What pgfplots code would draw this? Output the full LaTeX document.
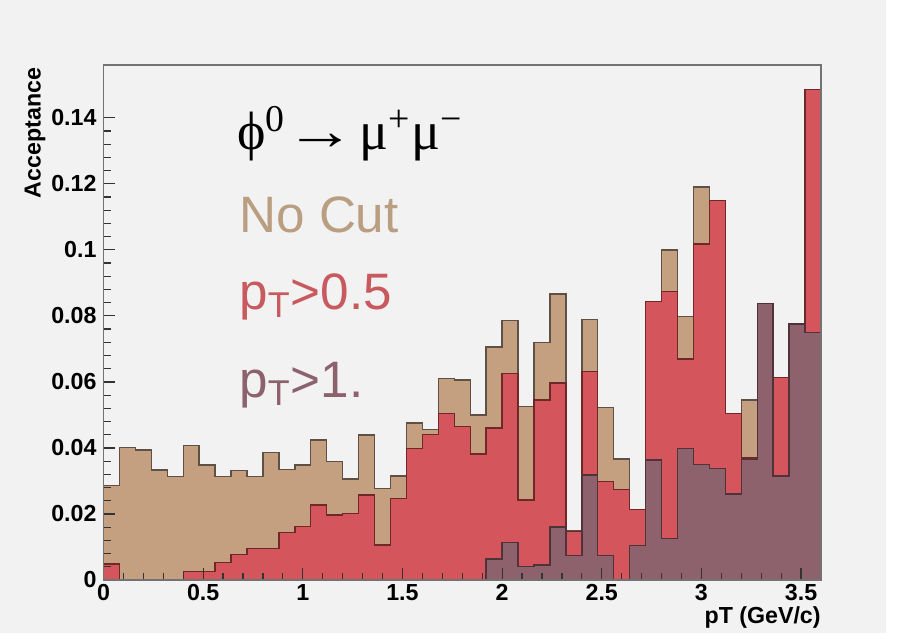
\documentclass[border=0pt]{standalone}
\usepackage{pgfplots}
\pgfplotsset{compat=1.18}
\usepackage{pgfplotstable}
\usepackage{graphicx}
\usepackage{fontspec}
\setmainfont{Liberation Sans}
\newfontfamily\greekserif{Liberation Serif}
\definecolor{bg}{RGB}{242,242,242}
\definecolor{tanfill}{RGB}{196,160,128}
\definecolor{tanline}{RGB}{95,80,70}
\definecolor{redfill}{RGB}{212,86,92}
\definecolor{redline}{RGB}{110,40,40}
\definecolor{purfill}{RGB}{142,98,108}
\definecolor{purline}{RGB}{80,50,58}
\definecolor{tantext}{RGB}{186,158,130}
\definecolor{redtext}{RGB}{200,90,95}
\definecolor{purtext}{RGB}{140,98,108}

% x = bin left edge (bin width 0.08 GeV/c); n = No Cut, a = pT>0.5, b = pT>1.
\pgfplotstableread{
x n a b
0.00 0.0287 0.0048 0
0.08 0.0401 0 0
0.16 0.0394 0 0
0.24 0.0333 0 0
0.32 0.0313 0 0
0.40 0.0407 0.0025 0
0.48 0.0348 0.0025 0
0.56 0.0313 0.0053 0
0.64 0.0331 0.0078 0
0.72 0.0313 0.0096 0
0.80 0.0386 0.0096 0
0.88 0.0335 0.0143 0
0.96 0.0348 0.0162 0
1.04 0.0424 0.0227 0
1.12 0.0359 0.0197 0
1.20 0.0306 0.0202 0
1.28 0.0439 0.0258 0
1.36 0.0278 0.0106 0
1.44 0.0315 0.0247 0
1.52 0.0475 0.0399 0
1.60 0.0456 0.0440 0
1.68 0.0611 0.0505 0
1.76 0.0606 0.0465 0
1.84 0.0500 0.0382 0
1.92 0.0706 0.0460 0.0063
2.00 0.0786 0.0626 0.0113
2.08 0.0526 0.0242 0.0040
2.16 0.0720 0.0545 0.0045
2.24 0.0866 0.0597 0.0160
2.32 0.0148 0.0146 0.0075
2.40 0.0789 0.0631 0.0318
2.48 0.0523 0.0298 0.0075
2.56 0.0366 0.0274 0
2.64 0.0213 0.0213 0.0104
2.72 0.0844 0.0844 0.0364
2.80 0.1000 0.0874 0.0126
2.88 0.0798 0.0669 0.0399
2.96 0.1190 0.1018 0.0350
3.04 0.1150 0.1150 0.0338
3.12 0.0505 0.0505 0.0260
3.20 0.0545 0.0369 0.0365
3.28 0.0838 0.0838 0.0838
3.36 0.0613 0.0613 0.0315
3.44 0.0776 0.0776 0.0776
3.52 0.1486 0.1486 0.0749
3.60 0.1486 0.1486 0.0749
}\hist

\begin{document}
\begin{tikzpicture}
\fill[white] (0,0) rectangle (449.5pt,320.5pt);
\fill[bg] (0,4pt) rectangle (443pt,320.5pt);
\useasboundingbox (0,0) rectangle (449.5pt,320.5pt);
\begin{axis}[
  at={(51.75pt,30.5pt)}, anchor=south west,
  scale only axis, width=358.75pt, height=257.5pt,
  xmin=0, xmax=3.6, ymin=0, ymax=0.156,
  axis on top,
  axis line style={draw=black!55, line width=0.6pt},
  tick style={draw=black!80, line width=0.6pt},
  major tick length=6pt, minor tick length=3.5pt,
  tick pos=left, tick align=inside,
  xtick={0,0.5,1,1.5,2,2.5,3,3.5},
  ytick={0,0.02,0.04,0.06,0.08,0.1,0.12,0.14},
  minor x tick num=4, minor y tick num=4,
  scaled y ticks=false, scaled x ticks=false,
  yticklabel style={/pgf/number format/fixed, /pgf/number format/precision=2},
  /pgf/number format/assume math mode=true,
  ticklabel style={font=\bfseries\fontsize{11.6}{12}\selectfont},
  xticklabel style={anchor=base, yshift=-10.5pt, inner sep=0pt},
  xlabel={pT (GeV/c)}, ylabel={Acceptance},
  label style={font=\bfseries\fontsize{11.6}{12}\selectfont},
  xlabel style={at={(rel axis cs:1,0)}, anchor=base east, yshift=-22pt, inner sep=0pt},
  ylabel style={at={(rel axis cs:-0.0955,0.995)}, anchor=east, inner sep=0pt},
  axis background/.style={fill=bg},
]
\addplot[const plot, fill=tanfill, draw=tanline, line width=0.7pt] table[x=x,y=n]{\hist} \closedcycle;
\addplot[const plot, fill=redfill, draw=redline, line width=0.7pt] table[x=x,y=a]{\hist} \closedcycle;
\addplot[const plot, fill=purfill, draw=purline, line width=0.7pt] table[x=x,y=b]{\hist} \closedcycle;
\end{axis}
\node[anchor=base west, inner sep=0pt, font=\greekserif\fontsize{27}{30}\selectfont] at (118.5pt,245.5pt) {ϕ\textsuperscript{0}\scalebox{1.3}[1]{→}\kern2pt μ\textsuperscript{+}μ\textsuperscript{−}};
\node[anchor=base west, inner sep=0pt, text=tantext, font=\fontsize{25.6}{30}\selectfont] at (119.5pt,204pt) {No Cut};
\node[anchor=base west, inner sep=0pt, text=redtext, font=\fontsize{25.6}{30}\selectfont] at (119.5pt,165.5pt) {p\textsubscript{T}>0.5};
\node[anchor=base west, inner sep=0pt, text=purtext, font=\fontsize{25.6}{30}\selectfont] at (119.5pt,121.5pt) {p\textsubscript{T}>1.};
\end{tikzpicture}
\end{document}
